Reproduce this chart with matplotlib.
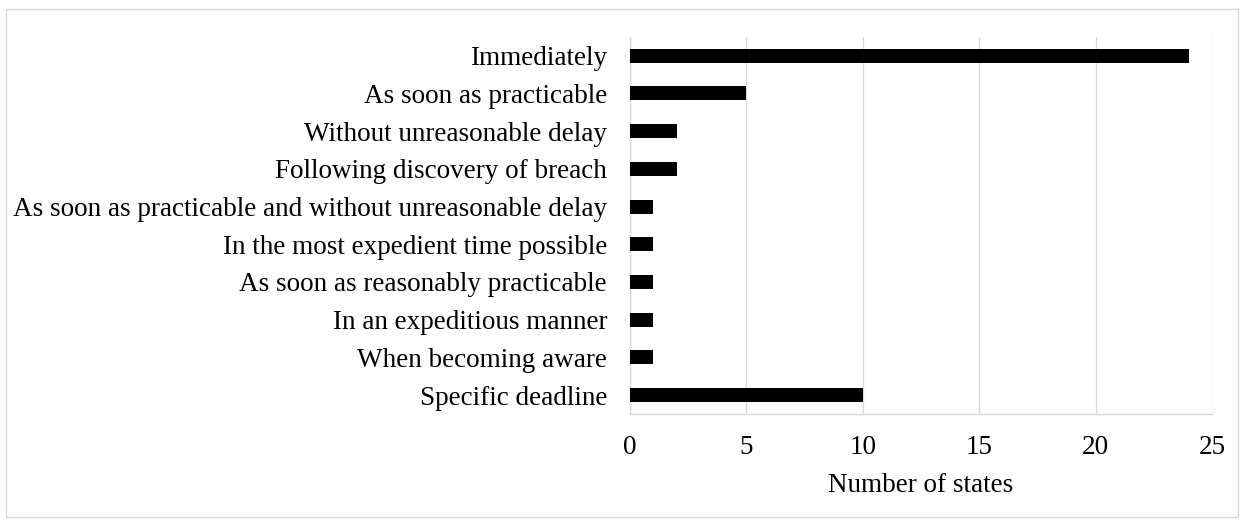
import matplotlib.pyplot as plt
from matplotlib.patches import Rectangle

categories = [
    "Immediately",
    "As soon as practicable",
    "Without unreasonable delay",
    "Following discovery of breach",
    "As soon as practicable and without unreasonable delay",
    "In the most expedient time possible",
    "As soon as reasonably practicable",
    "In an expeditious manner",
    "When becoming aware",
    "Specific deadline",
]
counts = [24, 5, 2, 2, 1, 1, 1, 1, 1, 10]
xticks = [0, 5, 10, 15, 20, 25]

plt.rcParams['font.family'] = ['Liberation Serif', 'DejaVu Serif']

fig = plt.figure(figsize=(12.44, 5.2), dpi=100)
ax = fig.add_axes([0.5064, 0.204, 0.4679, 0.725])

ypos = list(range(len(categories)))
ax.barh(ypos, counts, height=0.37, color='black', zorder=3)
ax.set_ylim(len(categories) - 0.5, -0.5)
ax.set_xlim(0, 25)
ax.set_xticks(xticks)
ax.set_yticks(ypos)
ax.set_yticklabels(categories)

ax.grid(axis='x', color='#d9d9d9', linewidth=1.0, zorder=0)
for s in ['top', 'right']:
    ax.spines[s].set_visible(False)
for s in ['left', 'bottom']:
    ax.spines[s].set_color('#d9d9d9')
    ax.spines[s].set_linewidth(1.0)

ax.tick_params(axis='both', length=0, labelsize=19.5)
ax.tick_params(axis='x', pad=15.5)
ax.tick_params(axis='y', pad=16.5)
ax.set_xlabel("Number of states", fontsize=19.5, labelpad=9)

fig.patches.append(Rectangle((0.005, 0.006), 0.99, 0.977, transform=fig.transFigure,
                             fill=False, edgecolor='#d9d9d9', linewidth=1.0))

fig.savefig("out.png", dpi=100)
